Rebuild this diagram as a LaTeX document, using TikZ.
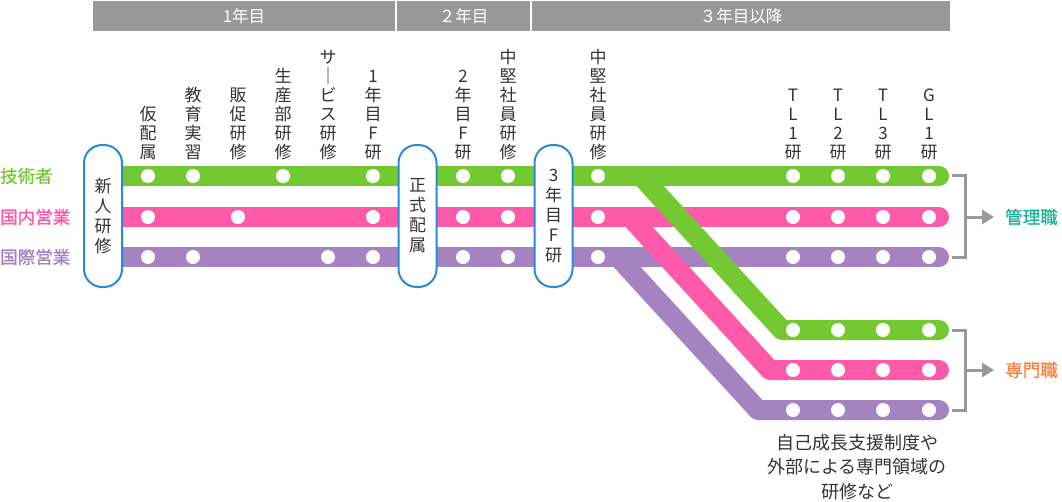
\documentclass[tikz,border=0pt]{standalone}
\usepackage{fontspec}
\setmainfont{Noto Sans CJK JP}
\newfontfamily\medfont[FakeBold=0.8]{Noto Sans CJK JP}
\usetikzlibrary{arrows.meta}
\definecolor{grn}{HTML}{74C932}
\definecolor{pnk}{HTML}{FF59A9}
\definecolor{prp}{HTML}{A583C1}
\definecolor{pillblue}{HTML}{2A8AD2}
\definecolor{hdr}{HTML}{999999}
\definecolor{txt}{HTML}{333333}
\definecolor{teal}{HTML}{19B39B}
\definecolor{orng}{HTML}{FF7B39}
\begin{document}
\begin{tikzpicture}[x=1pt,y=-1pt,
  rail/.style={line width=20pt, line cap=round, line join=round},
  stop/.style={circle, fill=white, minimum size=14pt, inner sep=0pt},
  pill/.style={draw=pillblue, line width=2pt, fill=white, rounded corners=18pt,
    minimum width=38pt, minimum height=142pt, inner sep=0pt, align=center,
    font=\fontsize{17}{20}\selectfont, text=txt},
  vlabel/.style={anchor=south, inner sep=0pt, align=center,
    font=\fontsize{17}{19}\selectfont, text=txt},
  yearbar/.style={fill=hdr, draw=none, minimum height=30pt, inner sep=0pt,
    text=white, font=\fontsize{16.5}{18}\selectfont},
  rowlabel/.style={anchor=west, inner sep=0pt, font=\medfont\fontsize{17.5}{19}\selectfont},
  brk/.style={draw=hdr, line width=3pt},
  goal/.style={anchor=west, inner sep=0pt, font=\medfont\fontsize{17.5}{19}\selectfont}
]
\useasboundingbox (0,0) rectangle (1062,501);

% year header bars
\node[yearbar, minimum width=302pt] (y1) at (244,16) {1年目};
\node[yearbar, minimum width=133pt] (y2) at (463.5,16) {２年目};
\node[yearbar, minimum width=418pt] (y3) at (741,16) {３年目以降};

% row labels
\node[rowlabel, text=grn] (lg) at (0,176) {技術者};
\node[rowlabel, text=pnk] (lp) at (0,217) {国内営業};
\node[rowlabel, text=prp] (lv) at (0,257) {国際営業};

% rail end points
\coordinate (gs) at (103,176); \coordinate (ge) at (939,176);
\coordinate (ps) at (103,217); \coordinate (pe) at (939,217);
\coordinate (vs) at (103,257); \coordinate (ve) at (939,257);
\coordinate (gb) at (641,176); \coordinate (gk) at (782,330); \coordinate (gf) at (939,330);
\coordinate (pb) at (630,217); \coordinate (pk) at (770,370); \coordinate (pf) at (939,370);
\coordinate (vb) at (618,257); \coordinate (vk) at (758,410); \coordinate (vf) at (939,410);

% horizontal rails
\draw[rail, grn] (gs) -- (ge);
\draw[rail, pnk] (ps) -- (pe);
\draw[rail, prp] (vs) -- (ve);
% branching rails
\draw[rail, prp] (vb) -- (vk) -- (vf);
\draw[rail, pnk] (pb) -- (pk) -- (pf);
\draw[rail, grn] (gb) -- (gk) -- (gf);

% stations
\foreach \x in {148,193,283,373,463,508,598,793,838,883,929}
  \node[stop] (g\x) at (\x,176) {};
\foreach \x in {148,238,373,463,508,598,793,838,883,929}
  \node[stop] (p\x) at (\x,217) {};
\foreach \x in {148,193,328,373,463,508,598,793,838,883,929}
  \node[stop] (v\x) at (\x,257) {};
\foreach \x in {793,838,883,929}{
  \node[stop] (gl\x) at (\x,330) {};
  \node[stop] (pl\x) at (\x,370) {};
  \node[stop] (vl\x) at (\x,410) {};
}

% milestone pills
\node[pill] (m1) at (103,216) {新\\人\\研\\修};
\node[pill] (m2) at (417.5,216) {正\\式\\配\\属};
\node[pill] (m3) at (553.5,216) {3\\年\\目\\F\\研};

% station labels
\node[vlabel] (t1) at (148,160) {仮\\配\\属};
\node[vlabel] (t2) at (193,160) {教\\育\\実\\習};
\node[vlabel] (t3) at (238,160) {販\\促\\研\\修};
\node[vlabel] (t4) at (283,160) {生\\産\\部\\研\\修};
\node[vlabel] (t5) at (328,160) {サ\\｜\\ビ\\ス\\研\\修};
\node[vlabel] (t6) at (373,160) {1\\年\\目\\F\\研};
\node[vlabel] (t7) at (463,160) {2\\年\\目\\F\\研};
\node[vlabel] (t8) at (508,160) {中\\堅\\社\\員\\研\\修};
\node[vlabel] (t9) at (598,160) {中\\堅\\社\\員\\研\\修};
\node[vlabel] (t10) at (793,160) {T\\L\\1\\研};
\node[vlabel] (t11) at (838,160) {T\\L\\2\\研};
\node[vlabel] (t12) at (883,160) {T\\L\\3\\研};
\node[vlabel] (t13) at (929,160) {G\\L\\1\\研};

% brackets and goals
\node[goal, text=teal] (mgr) at (1005,217) {管理職};
\node[goal, text=orng] (spc) at (1005,370) {専門職};
\coordinate (ba1) at (952,175); \coordinate (bb1) at (965,175);
\coordinate (bc1) at (965,257); \coordinate (bd1) at (952,257);
\coordinate (bm1) at (965,217); \coordinate (bt1) at (994,217);
\coordinate (ba2) at (952,330); \coordinate (bb2) at (965,330);
\coordinate (bc2) at (965,410); \coordinate (bd2) at (952,410);
\coordinate (bm2) at (965,370); \coordinate (bt2) at (994,370);
\draw[brk] (ba1) -- (bb1) -- (bc1) -- (bd1);
\draw[brk, -{Triangle[length=12pt,width=14pt]}] (bm1) -- (bt1);
\draw[brk] (ba2) -- (bb2) -- (bc2) -- (bd2);
\draw[brk, -{Triangle[length=12pt,width=14pt]}] (bm2) -- (bt2);

% note
\node[align=center, text=txt, inner sep=0pt, font=\fontsize{18}{24.5}\selectfont]
  (note) at (857,467) {自己成長支援制度や\\外部による専門領域の\\研修など};
\end{tikzpicture}
\end{document}
